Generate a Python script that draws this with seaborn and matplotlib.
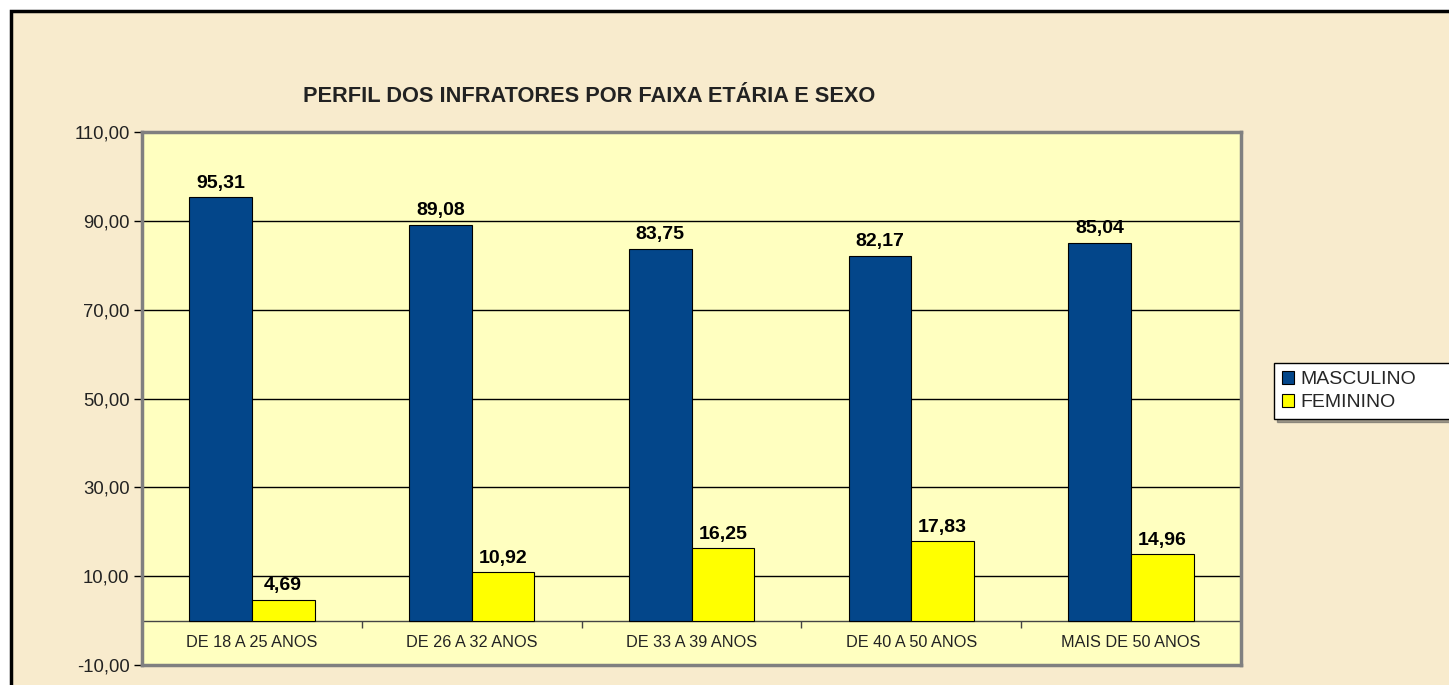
import pandas as pd
import matplotlib.pyplot as plt
import seaborn as sns
from matplotlib.patches import Rectangle

faixas = ["DE 18 A 25 ANOS", "DE 26 A 32 ANOS", "DE 33 A 39 ANOS", "DE 40 A 50 ANOS", "MAIS DE 50 ANOS"]
masculino = [95.31, 89.08, 83.75, 82.17, 85.04]
feminino = [4.69, 10.92, 16.25, 17.83, 14.96]
sexos = ["MASCULINO", "FEMININO"]
yticks = [-10, 10, 30, 50, 70, 90, 110]

df = pd.DataFrame({
    "faixa": faixas * 2,
    "sexo": [sexos[0]] * 5 + [sexos[1]] * 5,
    "valor": masculino + feminino,
})

sns.set_style("white")
plt.rcParams['font.family'] = ['Liberation Sans', 'DejaVu Sans']

fig = plt.figure(figsize=(14.49, 6.85), dpi=100, facecolor="white")

# parchment chart area with black frame
fig.patches.append(Rectangle((11/1449, -0.01), 1.0, 1 - 11/685 + 0.01, transform=fig.transFigure,
                             facecolor="#F8EBCD", edgecolor="black", linewidth=2.5, zorder=-5))

ax = fig.add_axes([142/1449, 1 - 665/685, (1241 - 142)/1449, (665 - 132)/685])
ax.set_zorder(2)
ax.set_facecolor("#FFFFC0")

sns.barplot(data=df, x="faixa", y="valor", hue="sexo", palette=["#03468A", "#FFFF00"],
            saturation=1, width=0.57, edgecolor="black", linewidth=0.8, ax=ax, zorder=3)

ax.set_ylim(-10, 110)
ax.set_xlim(-0.5, 4.5)
ax.set_yticks(yticks)
ax.set_yticklabels([f"{v:.2f}".replace(".", ",") for v in yticks], fontsize=13.3, color="#222222")
ax.tick_params(axis="y", length=6, width=1, color="black", left=True, pad=3)
ax.set_xticks([])
ax.set_xlabel("")
ax.set_ylabel("")

for v in yticks[1:-1]:
    ax.axhline(v, color="black", linewidth=1, zorder=1)

# category axis at zero with boundary ticks
ax.axhline(0, color="#444444", linewidth=1, zorder=2)
ax.vlines([i + 0.5 for i in range(-1, len(faixas))], -1.6, 0, color="#444444", linewidth=1, zorder=2)
for i, f in enumerate(faixas):
    ax.text(i, -5, f, ha="center", va="center", fontsize=11.7, color="#222222")

for c in ax.containers:
    ax.bar_label(c, labels=[f"{v:.2f}".replace(".", ",") for v in c.datavalues],
                 padding=4, fontsize=14, fontweight="bold", color="black")

for s in ax.spines.values():
    s.set_color("#808080")
    s.set_linewidth(2.5)

ax.legend(loc="upper left", bbox_to_anchor=(1274/1449, 1 - 426/685, 0.2, 63/685),
          bbox_transform=fig.transFigure, mode="expand",
          frameon=True, fancybox=False, shadow=True, fontsize=14, facecolor="white", edgecolor="black",
          handlelength=0.65, handleheight=0.65, handletextpad=0.3, borderpad=0.4, labelspacing=0.3,
          borderaxespad=0)
ax.get_legend().get_frame().set_linewidth(1)

fig.text(589/1449, 1 - 97/685, "PERFIL DOS INFRATORES POR FAIXA ETÁRIA E SEXO",
         ha="center", va="center", fontsize=15.7, fontweight="bold", color="#222222")

fig.savefig("out.png", dpi=100, facecolor="white")
